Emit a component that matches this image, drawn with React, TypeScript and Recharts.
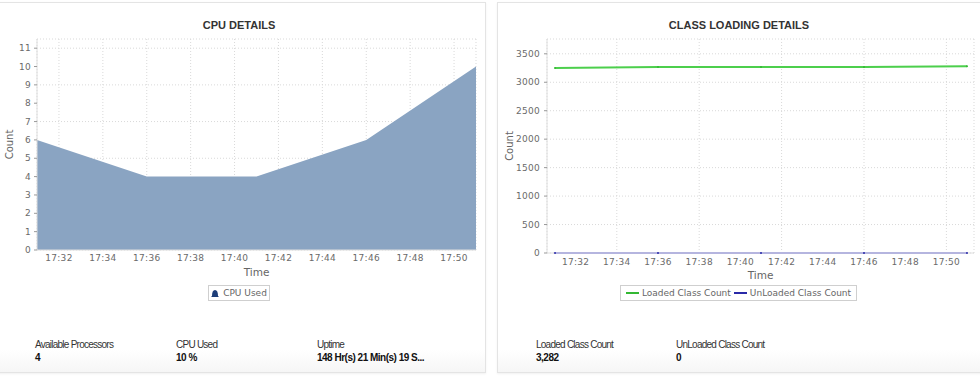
import React from 'react';
import { AreaChart, Area, LineChart, Line, XAxis, YAxis, CartesianGrid } from 'recharts';

// sampled every 5 minutes
const sampleTimes = ['17:31', '17:36', '17:41', '17:46', '17:51'];
const cpuUsed = [6, 4, 4, 6, 10];
const loadedClassCount = [3252, 3266, 3268, 3270, 3282];
const unloadedClassCount = [0, 0, 0, 0, 0];

const timeTicks = ['17:32', '17:34', '17:36', '17:38', '17:40', '17:42', '17:44', '17:46', '17:48', '17:50'];
const cpuYTicks = [0, 1, 2, 3, 4, 5, 6, 7, 8, 9, 10, 11];
const classYTicks = [0, 500, 1000, 1500, 2000, 2500, 3000, 3500];

const cpuStats = [
  { label: 'Available Processors', value: '4' },
  { label: 'CPU Used', value: '10 %' },
  { label: 'Uptime', value: '148 Hr(s) 21 Min(s) 19 S...' },
];
const classStats = [
  { label: 'Loaded Class Count', value: '3,282' },
  { label: 'UnLoaded Class Count', value: '0' },
];

const toMin = (t: string) => {
  const [h, m] = t.split(':').map(Number);
  return h * 60 + m;
};
const fmtTime = (v: number) => `${Math.floor(v / 60)}:${String(v % 60).padStart(2, '0')}`;

const cpuData = sampleTimes.map((t, i) => ({ t: toMin(t), cpu: cpuUsed[i] }));
const classData = sampleTimes.map((t, i) => ({
  t: toMin(t),
  loaded: loadedClassCount[i],
  unloaded: unloadedClassCount[i],
}));
const xDomain = [toMin(sampleTimes[0]), toMin(sampleTimes[sampleTimes.length - 1])];
const xTicks = timeTicks.map(toMin);

const TICK_FONT = 'DejaVu Sans, Verdana, sans-serif';
const TEXT_FONT = 'Liberation Sans, Arial, sans-serif';
const BORDER = '#dedede';

const tickStyle = { fill: '#6a6a6a', fontSize: 9, fontFamily: TICK_FONT, letterSpacing: 0.3 };

const TimeLabel = (props: any) => {
  const { viewBox } = props;
  return (
    <text x={viewBox.x + viewBox.width / 2} y={viewBox.y + 23} textAnchor="middle" dominantBaseline="middle"
      fill="#666" fontSize={10.5} fontFamily={TICK_FONT}>
      Time
    </text>
  );
};

const CountLabel = (props: any) => {
  const { viewBox } = props;
  const x = viewBox.x + 3;
  const y = viewBox.y + viewBox.height / 2;
  return (
    <text x={x} y={y} transform={`rotate(-90 ${x} ${y})`} textAnchor="middle" dominantBaseline="middle"
      fill="#666" fontSize={10} fontFamily={TICK_FONT}>
      Count
    </text>
  );
};

const Panel = ({ left, width }: { left: number; width: number }) => (
  <div style={{
    position: 'absolute', left, top: 2, width, height: 371, boxSizing: 'border-box',
    border: '1px solid #e4e4e4', boxShadow: '0 1px 2px rgba(0,0,0,0.06)',
    background: 'linear-gradient(to bottom, #fff 0%, #fff 94%, #f6f6f6 100%)',
  }} />
);

const Title = ({ text, cx }: { text: string; cx: number }) => (
  <div style={{
    position: 'absolute', left: cx - 150, width: 300, top: 19, textAlign: 'center',
    fontFamily: TEXT_FONT, fontWeight: 'bold', fontSize: 11, color: '#333',
  }}>{text}</div>
);

const Stats = ({ items, left, gap }: { items: { label: string; value: string }[]; left: number; gap: number }) => (
  <>
    {items.map((s, i) => (
      <div key={s.label} style={{
        position: 'absolute', left: left + i * gap, top: 338, fontFamily: TEXT_FONT,
        fontSize: 10, letterSpacing: -0.75, color: '#333', lineHeight: '13px', whiteSpace: 'nowrap',
      }}>
        <div>{s.label}</div>
        <div style={{ fontWeight: 'bold', color: '#111', letterSpacing: -0.5 }}>{s.value}</div>
      </div>
    ))}
  </>
);

const legendText = { fontFamily: TICK_FONT, fontSize: 9, color: '#666', whiteSpace: 'nowrap' as const };

const cpuSeries = [{ key: 'cpu', name: 'CPU Used', fill: '#8aa4c2', icon: '#1d3d78' }];
const classSeries = [
  { key: 'loaded', name: 'Loaded Class Count', stroke: '#4ccf4c', icon: '#33b833' },
  { key: 'unloaded', name: 'UnLoaded Class Count', stroke: '#8c8ce0', icon: '#2a2aa8' },
];

export default function App() {
  return (
    <div style={{ position: 'absolute', left: 0, top: 0, width: 980, height: 385, background: '#fff', overflow: 'hidden' }}>
      <Panel left={-2} width={488} />
      <Panel left={497} width={490} />

      <Title text="CPU DETAILS" cx={239} />
      <Title text="CLASS LOADING DETAILS" cx={739} />

      <div style={{ position: 'absolute', left: 0, top: 0 }}>
        <AreaChart width={486} height={280} data={cpuData} margin={{ top: 39, right: 10, bottom: 10, left: 7 }}>
          <CartesianGrid strokeDasharray="1 2" stroke="#d9d9d9" />
          <XAxis dataKey="t" type="number" domain={xDomain} ticks={xTicks} tickFormatter={fmtTime}
            height={20} tickLine={false} tickSize={0} tickMargin={5} axisLine={{ stroke: BORDER }}
            tick={tickStyle} label={<TimeLabel />} />
          <XAxis xAxisId="top" dataKey="t" type="number" orientation="top" domain={xDomain} height={0}
            tick={false} tickLine={false} axisLine={{ stroke: BORDER }} />
          <YAxis type="number" domain={[0, 11.5]} ticks={cpuYTicks} width={30} tickSize={3} tickMargin={3}
            tickLine={{ stroke: '#999' }} axisLine={{ stroke: BORDER }} tick={tickStyle} label={<CountLabel />} />
          <YAxis yAxisId="right" type="number" orientation="right" domain={[0, 11.5]} width={0}
            tick={false} tickLine={false} axisLine={{ stroke: BORDER }} />
          {cpuSeries.map((s) => (
            <Area key={s.key} type="linear" dataKey={s.key} name={s.name} fill={s.fill} fillOpacity={1}
              stroke="none" isAnimationActive={false} />
          ))}
        </AreaChart>
      </div>

      <div style={{ position: 'absolute', left: 490, top: 0 }}>
        <LineChart width={490} height={280} data={classData} margin={{ top: 39, right: 6, bottom: 7, left: 17 }}>
          <CartesianGrid strokeDasharray="1 2" stroke="#d9d9d9" />
          <XAxis dataKey="t" type="number" domain={xDomain} ticks={xTicks} tickFormatter={fmtTime}
            padding={{ left: 8, right: 7 }} height={20} tickLine={false} tickSize={0} tickMargin={6}
            axisLine={{ stroke: BORDER }} tick={tickStyle} label={<TimeLabel />} />
          <XAxis xAxisId="top" dataKey="t" type="number" orientation="top" domain={xDomain} height={0}
            tick={false} tickLine={false} axisLine={{ stroke: BORDER }} />
          <YAxis type="number" domain={[0, 3760]} ticks={classYTicks} width={40} tickSize={3} tickMargin={4}
            tickLine={{ stroke: '#999' }} axisLine={{ stroke: BORDER }} tick={tickStyle} label={<CountLabel />} />
          <YAxis yAxisId="right" type="number" orientation="right" domain={[0, 3760]} width={0}
            tick={false} tickLine={false} axisLine={{ stroke: BORDER }} />
          {classSeries.map((s) => (
            <Line key={s.key} type="linear" dataKey={s.key} name={s.name} stroke={s.stroke} strokeWidth={2}
              dot={{ r: 1, fill: s.icon, stroke: 'none' }} isAnimationActive={false} />
          ))}
        </LineChart>
      </div>

      <div style={{
        position: 'absolute', left: 208, top: 285, width: 62, height: 16, boxSizing: 'border-box',
        border: '1px solid #cfcfcf', display: 'flex', alignItems: 'center', justifyContent: 'center', gap: 4,
      }}>
        {cpuSeries.map((s) => (
          <React.Fragment key={s.key}>
            <svg width={8} height={8}>
              <path d="M0 8 L1 7 C1 3 2 1 4 1 C6 1 7 3 7 7 L8 8 Z" fill={s.icon} />
            </svg>
            <span style={legendText}>{s.name}</span>
          </React.Fragment>
        ))}
      </div>

      <div style={{
        position: 'absolute', left: 620, top: 285, width: 237, height: 16, boxSizing: 'border-box',
        border: '1px solid #cfcfcf', display: 'flex', alignItems: 'center', justifyContent: 'center', gap: 3,
      }}>
        {classSeries.map((s) => (
          <React.Fragment key={s.key}>
            <span style={{ display: 'inline-block', flex: 'none', width: 13, height: 2, background: s.icon }} />
            <span style={legendText}>{s.name}</span>
          </React.Fragment>
        ))}
      </div>

      <Stats items={cpuStats} left={35} gap={141} />
      <Stats items={classStats} left={536} gap={140} />
    </div>
  );
}
